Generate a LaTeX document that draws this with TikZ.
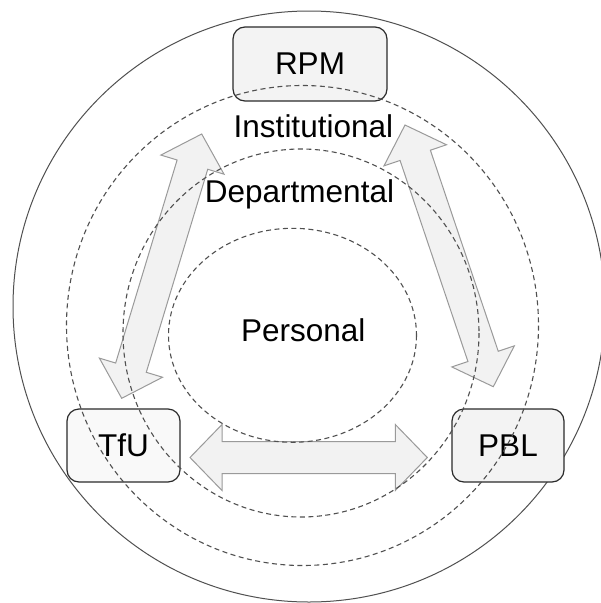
\documentclass[tikz,border=0pt]{standalone}
\usepackage{fontspec}
\setmainfont{Liberation Sans}
\usetikzlibrary{calc}
\definecolor{boxfill}{HTML}{F3F3F3}
\definecolor{boxfilllight}{HTML}{F9F9F9}
\definecolor{boxline}{HTML}{2B2B2B}
\definecolor{arrfill}{HTML}{F2F2F2}
\definecolor{arrline}{HTML}{9A9A9A}
\definecolor{ringline}{HTML}{505050}
\tikzset{
  txt/.style={font=\fontsize{31.5}{36}\selectfont, text=black},
  stagebox/.style={txt, draw=boxline, line width=1.2pt, rounded corners=12pt, fill=boxfill, inner sep=0pt},
  blockarr/.style={draw=arrline, fill=arrfill, line width=1pt, line join=miter},
  ring/.style={draw=ringline, line width=1pt},
  dashring/.style={draw=ringline, line width=1.1pt, dash pattern=on 5pt off 3.5pt},
  lbl/.style={txt, inner sep=0pt, anchor=base}
}
\newcommand\blockarrow[2]{%
  \draw[blockarr] (#1)
    -- ($(#1)!32pt!(#2)!33pt!90:(#2)$)
    -- ($(#1)!32pt!(#2)!16pt!90:(#2)$)
    -- ($(#2)!32pt!(#1)!16pt!-90:(#1)$)
    -- ($(#2)!32pt!(#1)!33pt!-90:(#1)$)
    -- (#2)
    -- ($(#2)!32pt!(#1)!33pt!90:(#1)$)
    -- ($(#2)!32pt!(#1)!16pt!90:(#1)$)
    -- ($(#1)!32pt!(#2)!16pt!-90:(#2)$)
    -- ($(#1)!32pt!(#2)!33pt!-90:(#2)$)
    -- cycle;}
\begin{document}
\begin{tikzpicture}[x=1pt,y=-1pt]
\useasboundingbox (0,0) rectangle (601,603);
\clip (0,0) rectangle (601,603);
\fill[white] (0,0) rectangle (601,603);
% outer ring
\draw[ring] (309,306.5) ellipse [x radius=296, y radius=295.5];
% arrow end coordinates
\coordinate (la1) at (201.7,134);
\coordinate (la2) at (121.7,398.3);
\coordinate (ra1) at (405,125);
\coordinate (ra2) at (493.3,386.7);
\coordinate (ha1) at (190,457.5);
\coordinate (ha2) at (427.3,457.5);
\blockarrow{la1}{la2}
\blockarrow{ra1}{ra2}
\blockarrow{ha1}{ha2}
% boxes
\node[stagebox, minimum width=154pt, minimum height=74pt] (rpm) at (310,64) {RPM};
\node[stagebox, fill=boxfilllight, minimum width=113pt, minimum height=73pt] (tfu) at (123.5,445.5) {TfU};
\node[stagebox, minimum width=112pt, minimum height=73pt] (pbl) at (508,445.5) {PBL};
% dashed rings
\draw[dashring] (302.5,325.5) ellipse [x radius=236, y radius=240];
\draw[dashring] (301,333) ellipse [x radius=178, y radius=184];
\draw[dashring] (292.5,335.3) ellipse [x radius=124, y radius=107];
% ring labels
\node[lbl] (inst) at (313.4,137) {Institutional};
\node[lbl] (dept) at (299.5,202) {Departmental};
\node[lbl] (pers) at (303.3,341.5) {Personal};
\end{tikzpicture}
\end{document}
